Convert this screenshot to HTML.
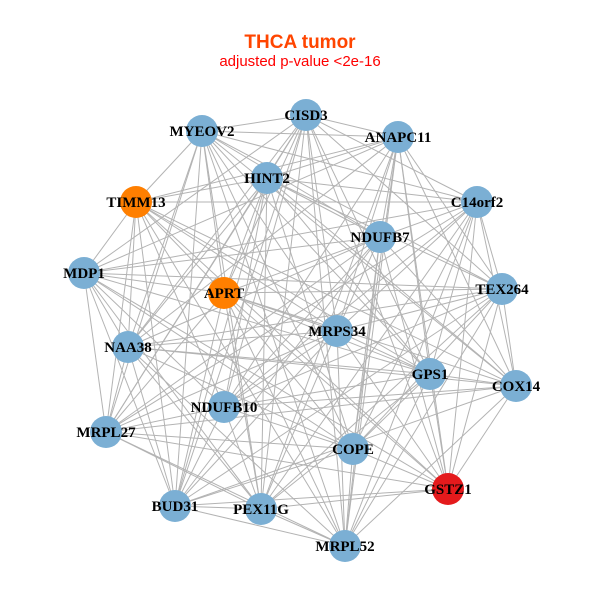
<!DOCTYPE html>
<html><head><meta charset="utf-8"><style>html,body{margin:0;padding:0;background:#fff}svg{display:block}</style></head>
<body>
<svg id="s" width="600" height="600" xmlns="http://www.w3.org/2000/svg">
<rect width="600" height="600" fill="#fff"/>
<text x="300" y="48" text-anchor="middle" font-family="Liberation Sans, sans-serif" font-weight="bold" font-size="19" fill="#FF4500">THCA tumor</text>
<text x="300" y="66" text-anchor="middle" font-family="Liberation Sans, sans-serif" font-size="15" fill="#FF0000">adjusted p-value &lt;2e-16</text>
<g id="e" stroke="#b3b3b3" stroke-width="1"></g>
<g id="n"></g>
</svg>
<script>
var N=[["CISD3",306,115,"b"],["MYEOV2",202,131,"b"],["ANAPC11",398,137,"b"],["TIMM13",136,202,"o"],["HINT2",267,178,"b"],["C14orf2",477,202,"b"],["NDUFB7",380,237,"b"],["MDP1",84,273,"b"],["APRT",224,293,"o"],["TEX264",502,289,"b"],["MRPS34",337,331,"b"],["NAA38",128,347,"b"],["GPS1",430,374,"b"],["COX14",516,386,"b"],["NDUFB10",224,407,"b"],["MRPL27",106,432,"b"],["COPE",353,449,"b"],["GSTZ1",448,489,"r"],["BUD31",175,506,"b"],["PEX11G",261,509,"b"],["MRPL52",345,546,"b"]];
var ns="http://www.w3.org/2000/svg",e=document.getElementById("e"),g=document.getElementById("n");
for(var i=0;i<N.length;i++)for(var j=i+1;j<N.length;j++){
 if(((i*7+j*13)%10)<7.2){var l=document.createElementNS(ns,"line");
 l.setAttribute("x1",N[i][1]);l.setAttribute("y1",N[i][2]);l.setAttribute("x2",N[j][1]);l.setAttribute("y2",N[j][2]);e.appendChild(l);}}
var C={b:"#7BAFD4",o:"#FF7F00",r:"#E41A1C"};
N.forEach(function(d){var c=document.createElementNS(ns,"circle");c.setAttribute("cx",d[1]);c.setAttribute("cy",d[2]);c.setAttribute("r",16);c.setAttribute("fill",C[d[3]]);g.appendChild(c);});
N.forEach(function(d){var t=document.createElementNS(ns,"text");t.setAttribute("x",d[1]);t.setAttribute("y",d[2]+5);t.setAttribute("text-anchor","middle");t.setAttribute("font-family","Liberation Serif, serif");t.setAttribute("font-weight","bold");t.setAttribute("font-size","15");t.textContent=d[0];g.appendChild(t);});
</script>
</body></html>
